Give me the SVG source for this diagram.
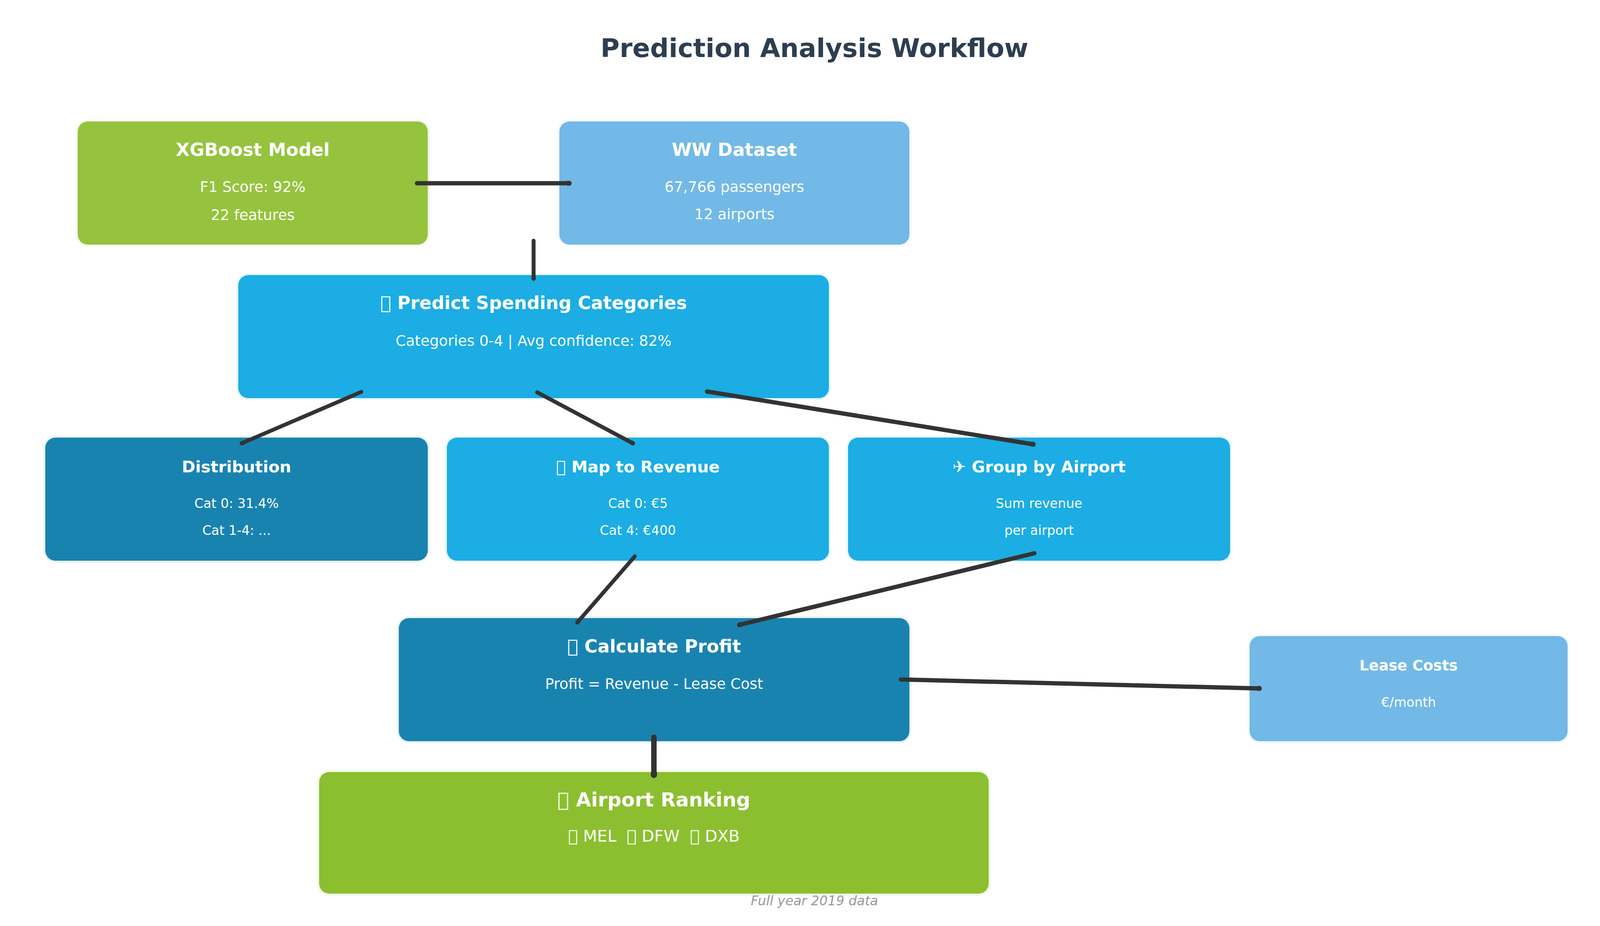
<svg xmlns="http://www.w3.org/2000/svg" width="4170" height="2370" viewBox="0 0 4170 2370">
<style>
text{font-family:"DejaVu Sans","Liberation Sans",sans-serif;text-anchor:middle;fill:#fff;white-space:pre}
.b{font-weight:700}
.box{stroke-width:9;stroke-opacity:.11}
.g1{fill:#95C33E;stroke:#95C33E}
.g2{fill:#8CBF2F;stroke:#8CBF2F;stroke-width:11}
.c1{fill:#1BADE3;stroke:#1BADE3}
.c2{fill:#1983B0;stroke:#1983B0}
.c3{fill:#72B9E7;stroke:#72B9E7}
.cn{stroke:#333;fill:none;stroke-linecap:round;marker-end:url(#tip)}
</style>
<defs>
<marker id="tip" markerUnits="strokeWidth" viewBox="-0.5 -0.6 1.2 1.2" refX="0" refY="0" markerWidth="1.2" markerHeight="1.2" orient="auto"><path d="M-.4-.57H.1A.57 .57 0 0 1 .1 .57H-.4Z" fill="#333"/></marker>
</defs>
<rect width="4170" height="2370" fill="#fff"/>
<text x="2085" y="146" class="b" font-size="66.700" style="fill:#2C3E50">Prediction Analysis Workflow</text>
<g id="xgboost"><rect class="box g1" x="199" y="311" width="896" height="315" rx="26"/><text x="647" y="399" class="b" font-size="46">XGBoost Model</text><text x="647" y="491" font-size="37.500">F1 Score: 92%</text><text x="647" y="563" font-size="37.500">22 features</text></g>
<g id="dataset"><rect class="box c3" x="1432" y="311" width="896" height="315" rx="26"/><text x="1880" y="399" class="b" font-size="46">WW Dataset</text><text x="1880" y="491" font-size="37.500">67,766 passengers</text><text x="1880" y="561" font-size="37.500">12 airports</text></g>
<g id="predict"><rect class="box c1" x="610" y="704" width="1512" height="315" rx="26"/><text x="1366" y="791" class="b" font-size="46">&#xE000; Predict Spending Categories</text><text x="1366" y="885" font-size="37.500">Categories 0-4 | Avg confidence: 82%</text></g>
<g id="distribution"><rect class="box c2" x="116" y="1120" width="979" height="315" rx="26"/><text x="605.500" y="1209" class="b" font-size="41.600">Distribution</text><text x="605.500" y="1300" font-size="33.300">Cat 0: 31.4%</text><text x="605.500" y="1369" font-size="33.300">Cat 1-4: ...</text></g>
<g id="revenue"><rect class="box c1" x="1144" y="1120" width="978" height="315" rx="26"/><text x="1633" y="1209" class="b" font-size="41.600">&#xE000; Map to Revenue</text><text x="1633" y="1300" font-size="33.300">Cat 0: €5</text><text x="1633" y="1369" font-size="33.300">Cat 4: €400</text></g>
<g id="airport"><rect class="box c1" x="2171" y="1120" width="978" height="315" rx="26"/><text x="2660" y="1209" class="b" font-size="41.600">✈ Group by Airport</text><text x="2660" y="1300" font-size="33.300">Sum revenue</text><text x="2660" y="1369" font-size="33.300">per airport</text></g>
<g id="profit"><rect class="box c2" x="1021" y="1582" width="1307" height="315" rx="26"/><text x="1674.500" y="1670" class="b" font-size="46">&#xE000; Calculate Profit</text><text x="1674.500" y="1763" font-size="37.500">Profit = Revenue - Lease Cost</text></g>
<g id="lease"><rect class="box c3" x="3199" y="1628" width="814" height="269" rx="26"/><text x="3606" y="1716" class="b" font-size="37.500">Lease Costs</text><text x="3606" y="1809" font-size="33.300">€/month</text></g>
<g id="ranking"><rect class="box g2" x="817" y="1976" width="1714" height="311" rx="26"/><text x="1674" y="2064" class="b" font-size="50">&#xE000; Airport Ranking</text><text x="1674" y="2154" font-size="41.600">&#xE000; MEL  &#xE000; DFW  &#xE000; DXB</text></g>
<text x="2085" y="2317" font-style="italic" font-size="33.600" style="fill:#999">Full year 2019 data</text>
<g id="connectors">
<path class="cn" stroke-width="11" d="M1067.500 469H1456"/>
<path class="cn" stroke-width="10" d="M1366 616V712"/>
<path class="cn" stroke-width="10" d="M925 1003L620 1134"/>
<path class="cn" stroke-width="10" d="M1375 1004L1619 1134"/>
<path class="cn" stroke-width="11" d="M1810 1002L2644 1137"/>
<path class="cn" stroke-width="10" d="M1625 1424L1479 1592"/>
<path class="cn" stroke-width="11" d="M2648 1416L1894 1599"/>
<path class="cn" stroke-width="11" d="M2306 1739L3223 1762"/>
<path class="cn" stroke-width="14" d="M1674 1887V1982"/>
</g>
</svg>
